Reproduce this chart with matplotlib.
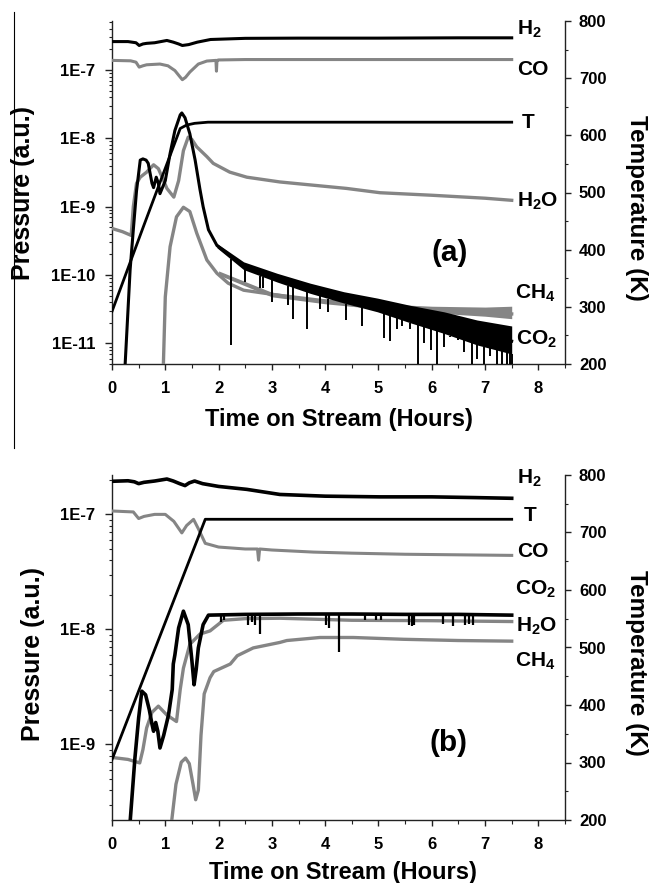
import numpy as np
import matplotlib
matplotlib.use("Agg")
import matplotlib.pyplot as plt
from matplotlib.lines import Line2D
from matplotlib.ticker import FixedLocator, MultipleLocator, FuncFormatter, LogLocator, NullFormatter

plt.rcParams['font.family'] = ['Liberation Sans', 'DejaVu Sans']
plt.rcParams['font.weight'] = 'bold'
plt.rcParams['mathtext.fontset'] = 'custom'
plt.rcParams['mathtext.rm'] = 'Liberation Sans:bold'
plt.rcParams['mathtext.bf'] = 'Liberation Sans:bold'
plt.rcParams['mathtext.it'] = 'Liberation Sans:bold'

# ---------------- Panel (a) data ----------------
a_h2_t = [0, 0.3, 0.45, 0.51, 0.58, 0.65, 0.8, 1.03, 1.15, 1.25, 1.32, 1.44, 1.6, 1.85, 2.5, 3.5, 5.0, 6.5, 7.5]
a_h2_p = [2.6e-7, 2.6e-7, 2.5e-7, 2.28e-7, 2.4e-7, 2.45e-7, 2.5e-7, 2.7e-7, 2.55e-7, 2.4e-7, 2.28e-7, 2.35e-7,
          2.55e-7, 2.79e-7, 2.9e-7, 2.92e-7, 2.92e-7, 2.95e-7, 2.95e-7]

a_co_t = [0, 0.35, 0.45, 0.51, 0.58, 0.65, 0.9, 1.05, 1.18, 1.26, 1.32, 1.38, 1.46, 1.62, 1.78, 1.95, 1.96, 1.97,
          2.0, 2.5, 4.0, 6.0, 7.5]
a_co_p = [1.38e-7, 1.36e-7, 1.3e-7, 1.1e-7, 1.15e-7, 1.19e-7, 1.22e-7, 1.15e-7, 9.8e-8, 8.2e-8, 7.2e-8, 7.8e-8,
          9.3e-8, 1.22e-7, 1.35e-7, 1.38e-7, 9.6e-8, 1.38e-7, 1.4e-7, 1.42e-7, 1.42e-7, 1.42e-7, 1.42e-7]

a_T_t = [0, 0.6, 1.28, 1.4, 1.55, 1.8, 2.2, 7.5]
a_T_K = [292, 443, 612, 618, 621, 623, 623, 623]

a_h2o_t = [0, 0.2, 0.36, 0.4, 0.46, 0.53, 0.65, 0.78, 0.87, 0.95, 1.03, 1.16, 1.25, 1.34, 1.43, 1.5, 1.59, 1.78,
           1.9, 2.21, 2.53, 3.15, 3.78, 4.4, 5.03, 6.0, 7.0, 7.5]
a_h2o_p = [4.8e-10, 4.3e-10, 3.8e-10, 1.0e-9, 2.2e-9, 2.7e-9, 3.2e-9, 4.1e-9, 3.6e-9, 2.6e-9, 1.85e-9, 1.38e-9,
           2.4e-9, 6.6e-9, 1.04e-8, 9.6e-9, 7.5e-9, 5.4e-9, 4.3e-9, 3.2e-9, 2.7e-9, 2.3e-9, 2.06e-9, 1.85e-9,
           1.6e-9, 1.47e-9, 1.33e-9, 1.24e-9]

a_ch4_t = [0.95, 1.0, 1.09, 1.21, 1.34, 1.46, 1.59, 1.78, 1.97, 2.18, 2.47, 3.1, 3.72, 4.35, 4.98, 5.6, 6.23,
           6.85, 7.5]
a_ch4_p = [2e-12, 4.8e-11, 2.6e-10, 7.1e-10, 9.8e-10, 8.5e-10, 4.1e-10, 1.66e-10, 1.06e-10, 7.6e-11, 6.0e-11,
           5.1e-11, 4.3e-11, 3.9e-11, 3.5e-11, 3.2e-11, 3.1e-11, 2.9e-11, 2.7e-11]
a_ch4_band_t = [2.0, 3.0, 4.0, 5.0, 6.0, 7.0, 7.5]
a_ch4_band_hi = [1.15e-10, 5.6e-11, 4.5e-11, 3.8e-11, 3.5e-11, 3.4e-11, 3.5e-11]
a_ch4_band_lo = [1.0e-10, 4.8e-11, 3.8e-11, 3.2e-11, 2.8e-11, 2.5e-11, 2.3e-11]

a_co2_t = [0.22, 0.34, 0.4, 0.46, 0.53, 0.58, 0.64, 0.68, 0.75, 0.78, 0.83, 0.87, 0.9, 1.0, 1.09, 1.18, 1.28,
           1.31, 1.37, 1.46, 1.56, 1.65, 1.71, 1.81, 1.97, 2.47, 3.1, 3.72, 4.35, 4.98, 5.6, 6.23, 6.85, 7.5]
a_co2_p = [2e-12, 1.2e-10, 4.6e-10, 1.7e-9, 4.8e-9, 5.0e-9, 4.8e-9, 4.3e-9, 2.2e-9, 1.9e-9, 2.7e-9, 2.2e-9,
           1.55e-9, 2.4e-9, 6.0e-9, 1.3e-8, 2.2e-8, 2.35e-8, 2.0e-8, 1.17e-8, 4.8e-9, 1.8e-9, 1.0e-9, 4.6e-10,
           2.7e-10, 1.35e-10, 9.0e-11, 6.2e-11, 4.5e-11, 3.5e-11, 2.55e-11, 1.9e-11, 1.37e-11, 1.08e-11]
a_co2_band_t = [1.97, 2.47, 3.1, 3.72, 4.35, 4.98, 5.6, 6.23, 6.85, 7.5]
a_co2_band_hi = [2.9e-10, 1.56e-10, 1.06e-10, 7.6e-11, 5.7e-11, 4.6e-11, 3.6e-11, 2.9e-11, 2.2e-11, 1.8e-11]
a_co2_band_lo = [2.5e-10, 1.2e-10, 7.9e-11, 5.4e-11, 3.9e-11, 2.9e-11, 2.0e-11, 1.4e-11, 9.5e-12, 7.0e-12]
a_co2_spike_t = [2.23, 2.5, 2.78, 2.84, 3.0, 3.31, 3.39, 3.65, 3.9, 4.06, 4.39, 4.7, 5.1, 5.22, 5.35, 5.44, 5.6,
                 5.74, 5.85, 5.98, 6.09, 6.23, 6.35, 6.5, 6.6, 6.76, 6.85, 6.98, 7.1, 7.23, 7.32, 7.41, 7.46, 7.5]
a_co2_spike_p = [9.5e-12, 8e-11, 6.4e-11, 6.4e-11, 4e-11, 3.6e-11, 2.3e-11, 1.6e-11, 3.2e-11, 2.9e-11, 2.2e-11,
                 1.8e-11, 1.2e-11, 1.07e-11, 1.6e-11, 1.8e-11, 1.6e-11, 3e-12, 1e-11, 8.1e-12, 3e-12, 9e-12,
                 1.26e-11, 1.12e-11, 7.6e-12, 3e-12, 6e-12, 3e-12, 6.5e-12, 3e-12, 3e-12, 3e-12, 3e-12, 3e-12]

# ---------------- Panel (b) data ----------------
b_h2_t = [0, 0.3, 0.42, 0.5, 0.6, 0.8, 1.03, 1.15, 1.27, 1.37, 1.45, 1.55, 1.7, 2.0, 2.53, 3.15, 4.0, 5.03, 6.0,
          6.8, 7.5]
b_h2_p = [1.94e-7, 1.96e-7, 1.92e-7, 1.85e-7, 1.9e-7, 1.95e-7, 2.03e-7, 1.95e-7, 1.85e-7, 1.78e-7, 1.88e-7,
          1.95e-7, 1.85e-7, 1.75e-7, 1.65e-7, 1.49e-7, 1.44e-7, 1.42e-7, 1.42e-7, 1.4e-7, 1.38e-7]

b_co_t = [0, 0.4, 0.5, 0.6, 0.8, 1.0, 1.16, 1.31, 1.4, 1.53, 1.62, 1.75, 2.0, 2.5, 2.73, 2.75, 2.77, 3.0, 3.78,
          4.5, 5.5, 6.5, 7.5]
b_co_p = [1.07e-7, 1.05e-7, 9.2e-8, 9.6e-8, 1.0e-7, 1.0e-7, 8.7e-8, 6.9e-8, 8.0e-8, 9.05e-8, 7.5e-8, 5.6e-8,
          5.2e-8, 5.0e-8, 5.0e-8, 4.0e-8, 5.0e-8, 4.9e-8, 4.7e-8, 4.6e-8, 4.5e-8, 4.45e-8, 4.4e-8]

b_T_t = [0, 1.75, 7.5]
b_T_K = [305, 723, 723]

b_h2o_t = [0, 0.3, 0.52, 0.58, 0.65, 0.75, 0.87, 1.03, 1.21, 1.28, 1.34, 1.46, 1.65, 1.84, 2.09, 2.5, 3.15, 4.5,
           6.0, 7.5]
b_h2o_p = [7.7e-10, 7.4e-10, 6.9e-10, 9e-10, 1.39e-9, 1.9e-9, 2.15e-9, 1.8e-9, 1.58e-9, 3.0e-9, 4.6e-9, 7.4e-9,
           9.1e-9, 9.7e-9, 1.2e-8, 1.24e-8, 1.25e-8, 1.2e-8, 1.19e-8, 1.17e-8]

b_co2_t = [0.3, 0.43, 0.5, 0.56, 0.63, 0.7, 0.75, 0.78, 0.82, 0.86, 0.9, 0.97, 1.06, 1.13, 1.15, 1.18, 1.25,
           1.34, 1.43, 1.5, 1.54, 1.58, 1.62, 1.71, 1.81, 2.5, 3.5, 4.5, 5.5, 6.5, 7.5]
b_co2_p = [1.2e-10, 7.6e-10, 1.7e-9, 2.9e-9, 2.7e-9, 2.0e-9, 1.5e-9, 1.3e-9, 1.55e-9, 1.3e-9, 9.3e-10, 1.2e-9,
           1.8e-9, 3.0e-9, 5.0e-9, 6.0e-9, 1.03e-8, 1.44e-8, 1.1e-8, 5.3e-9, 3.3e-9, 4.5e-9, 6.9e-9, 1.1e-8,
           1.33e-8, 1.35e-8, 1.36e-8, 1.36e-8, 1.35e-8, 1.35e-8, 1.33e-8]
b_co2_spike_t = [2.05, 2.1, 2.55, 2.62, 2.68, 2.77, 4.02, 4.07, 4.25, 4.75, 4.95, 5.05, 5.57, 5.62, 5.66, 6.22,
                 6.4, 6.62, 6.7, 6.78]
b_co2_spike_p = [1.15e-8, 1.2e-8, 1.1e-8, 1.15e-8, 1.1e-8, 9.1e-9, 1.1e-8, 1.02e-8, 6.4e-9, 1.2e-8, 1.2e-8,
                 1.2e-8, 1.1e-8, 1.08e-8, 1.1e-8, 1.12e-8, 1.08e-8, 1.1e-8, 1.12e-8, 1.1e-8]

b_ch4_t = [1.08, 1.2, 1.3, 1.38, 1.45, 1.52, 1.57, 1.62, 1.67, 1.73, 1.84, 1.91, 2.22, 2.35, 2.65, 3.15, 3.28,
           3.9, 4.53, 5.47, 6.5, 7.5]
b_ch4_p = [1.5e-10, 4.5e-10, 7.0e-10, 7.6e-10, 6.8e-10, 4.5e-10, 3.3e-10, 4.0e-10, 1.2e-9, 2.75e-9, 3.8e-9,
           4.3e-9, 5.0e-9, 5.9e-9, 6.9e-9, 7.7e-9, 8.0e-9, 8.5e-9, 8.5e-9, 8.2e-9, 8.0e-9, 7.9e-9]

xticks = [0, 1, 2, 3, 4, 5, 6, 7, 8]
tticks = [200, 300, 400, 500, 600, 700, 800]

GRAY = '#858585'
BLACK = '#000000'
AX = '#222222'

W, H = 651, 883
fig = plt.figure(figsize=(W / 100, H / 100), dpi=100)


def style_axes(ax, ylim, ymajor, xl, yl):
    ax.set_yscale('log')
    ax.set_ylim(*ylim)
    ax.set_xlim(0, 8.5)
    ax.xaxis.set_major_locator(FixedLocator(xticks))
    ax.xaxis.set_minor_locator(MultipleLocator(0.5))
    ax.yaxis.set_major_locator(FixedLocator(ymajor))
    ax.yaxis.set_minor_locator(LogLocator(base=10, subs=np.arange(2, 10)))
    ax.yaxis.set_minor_formatter(NullFormatter())
    ax.yaxis.set_major_formatter(FuncFormatter(lambda v, p: '1E%d' % int(round(np.log10(v)))))
    ax.spines['top'].set_visible(False)
    ax.spines['right'].set_visible(False)
    for s in ('left', 'bottom'):
        ax.spines[s].set_linewidth(1.0)
        ax.spines[s].set_color(AX)
    ax.tick_params(axis='y', which='major', direction='out', length=5, width=1.0, labelsize=12, color=AX, pad=7)
    ax.tick_params(axis='y', which='minor', direction='out', length=2.5, width=0.8, color=AX)
    ax.tick_params(axis='x', which='major', direction='out', length=4, width=1.0, labelsize=12, color=AX, pad=8)
    ax.tick_params(axis='x', which='minor', direction='out', length=3, width=0.8, color=AX)
    for lab in ax.get_xticklabels() + ax.get_yticklabels():
        lab.set_fontweight('bold')
    ax.set_xlabel('Time on Stream (Hours)', fontsize=17, fontweight='bold')
    ax.set_ylabel('Pressure (a.u.)', fontsize=18, fontweight='bold')
    ax.xaxis.set_label_coords(*xl)
    ax.yaxis.set_label_coords(*yl)


def style_twin(tw, yl):
    tw.set_ylim(200, 800)
    tw.yaxis.set_major_locator(FixedLocator(tticks))
    tw.yaxis.set_minor_locator(MultipleLocator(50))
    for s in ('top', 'left', 'bottom'):
        tw.spines[s].set_visible(False)
    tw.spines['right'].set_linewidth(1.0)
    tw.spines['right'].set_color(AX)
    tw.tick_params(which='major', direction='out', length=4, width=1.0, labelsize=12, color=AX, pad=6)
    tw.tick_params(which='minor', direction='out', length=2.5, width=0.8, color=AX)
    for lab in tw.get_yticklabels():
        lab.set_fontweight('bold')
    tw.set_ylabel('Temperature (K)', fontsize=17.5, fontweight='bold', rotation=270)
    tw.yaxis.set_label_coords(*yl)


def species_label(ax, x, y, s):
    ax.text(x, y, s, transform=ax.transAxes, fontsize=15, fontweight='bold', ha='left', va='baseline')


# ---------- panel (a) ----------
ax_a = fig.add_axes([112 / W, (H - 364) / H, 453 / W, 343 / H])
style_axes(ax_a, (5e-12, 5.2e-7), [1e-11, 1e-10, 1e-9, 1e-8, 1e-7], (0.502, -0.128), (-0.170, 0.5))
tw_a = ax_a.twinx()
style_twin(tw_a, (1.183, 0.455))

ax_a.plot(a_h2_t, a_h2_p, color=BLACK, lw=2.2, zorder=3)
ax_a.plot(a_co_t, a_co_p, color=GRAY, lw=2.2, zorder=3)
ax_a.plot(a_h2o_t, a_h2o_p, color=GRAY, lw=2.4, zorder=3)
ax_a.plot(a_ch4_t, a_ch4_p, color=GRAY, lw=2.4, zorder=3)
ax_a.fill_between(a_ch4_band_t, a_ch4_band_lo, a_ch4_band_hi, color=GRAY, lw=0, zorder=3)
ax_a.plot(a_co2_t, a_co2_p, color=BLACK, lw=2.2, zorder=4)
ax_a.fill_between(a_co2_band_t, a_co2_band_lo, a_co2_band_hi, color=BLACK, lw=0, zorder=4)
tops_a = np.exp(np.interp(a_co2_spike_t, a_co2_band_t, np.log(a_co2_band_lo)))
ax_a.vlines(a_co2_spike_t, a_co2_spike_p, tops_a, color=BLACK, lw=1.4, zorder=4)
tw_a.plot(a_T_t, a_T_K, color=BLACK, lw=2.0)

species_label(ax_a, 0.894, 0.959, r'$\mathbf{H_2}$')
species_label(ax_a, 0.894, 0.843, 'CO')
species_label(ax_a, 0.904, 0.688, 'T')
species_label(ax_a, 0.894, 0.458, r'$\mathbf{H_2O}$')
species_label(ax_a, 0.890, 0.1915, r'$\mathbf{CH_4}$')
species_label(ax_a, 0.892, 0.0554, r'$\mathbf{CO_2}$')
ax_a.text(0.746, 0.325, '(a)', transform=ax_a.transAxes, fontsize=21.5, fontweight='bold', ha='center',
          va='center')

# ---------- panel (b) ----------
ax_b = fig.add_axes([112 / W, (H - 820) / H, 453 / W, 345 / H])
style_axes(ax_b, (2.2e-10, 2.2e-7), [1e-9, 1e-8, 1e-7], (0.51, -0.12), (-0.147, 0.48))
tw_b = ax_b.twinx()
style_twin(tw_b, (1.183, 0.455))

ax_b.plot(b_h2_t, b_h2_p, color=BLACK, lw=2.6, zorder=3)
ax_b.plot(b_co_t, b_co_p, color=GRAY, lw=2.2, zorder=3)
ax_b.plot(b_h2o_t, b_h2o_p, color=GRAY, lw=2.4, zorder=3)
ax_b.plot(b_ch4_t, b_ch4_p, color=GRAY, lw=2.4, zorder=3)
ax_b.plot(b_co2_t, b_co2_p, color=BLACK, lw=2.6, zorder=4)
tops_b = np.exp(np.interp(b_co2_spike_t, b_co2_t, np.log(b_co2_p)))
ax_b.vlines(b_co2_spike_t, b_co2_spike_p, tops_b, color=BLACK, lw=1.6, zorder=4)
tw_b.plot(b_T_t, b_T_K, color=BLACK, lw=2.0)

species_label(ax_b, 0.894, 0.974, r'$\mathbf{H_2}$')
species_label(ax_b, 0.910, 0.867, 'T')
species_label(ax_b, 0.894, 0.763, 'CO')
species_label(ax_b, 0.890, 0.652, r'$\mathbf{CO_2}$')
species_label(ax_b, 0.892, 0.546, r'$\mathbf{H_2O}$')
species_label(ax_b, 0.890, 0.444, r'$\mathbf{CH_4}$')
ax_b.text(0.742, 0.223, '(b)', transform=ax_b.transAxes, fontsize=21.5, fontweight='bold', ha='center',
          va='center')

# thin vertical rule at the left edge of the upper panel
fig.add_artist(Line2D([13.5 / W, 13.5 / W], [1 - 12 / H, 1 - 448 / H], transform=fig.transFigure,
                      color='black', lw=0.8))

fig.savefig('out.png', dpi=100)
